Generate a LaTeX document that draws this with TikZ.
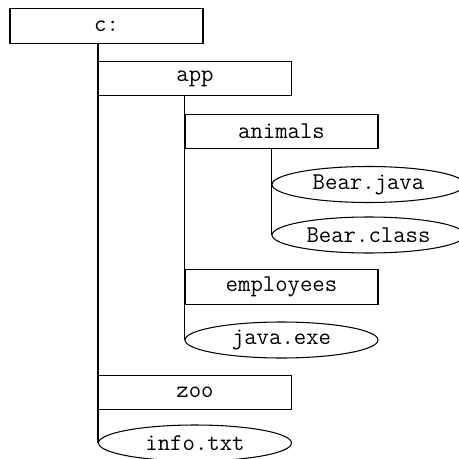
\documentclass[tikz,border=0pt]{standalone}
\usetikzlibrary{shapes.geometric}
\tikzset{
  dirbox/.style={draw, rectangle, line width=0.6pt, minimum width=3.86cm, minimum height=0.69cm, inner sep=0pt, font=\ttfamily\fontsize{13.7}{15}\selectfont},
  filebox/.style={draw, ellipse, line width=0.6pt, minimum width=3.86cm, minimum height=0.72cm, inner sep=0pt, font=\ttfamily\fontsize{13.7}{15}\selectfont},
  branch/.style={line width=0.6pt}
}
\begin{document}
\begin{tikzpicture}[x=0.02cm,y=-0.02cm]
\useasboundingbox (0,0) rectangle (459,459);
% folders
\node[dirbox] (croot) at (106.5,26) {c:};
\node[dirbox] (app) at (195,78.5) {app};
\node[dirbox] (animals) at (281.5,131.5) {animals};
\node[dirbox] (employees) at (281.5,287) {employees};
\node[dirbox] (zoo) at (195,392.5) {zoo};
% files
\node[filebox] (bearjava) at (368.5,184.5) {Bear.java};
\node[filebox] (bearclass) at (368.5,235) {Bear.class};
\node[filebox] (javaexe) at (281.5,340) {java.exe};
\node[filebox] (infotxt) at (195,443) {info.txt};
% tree lines
\draw[branch] (croot.south -| infotxt.west) -- (infotxt.west);
\draw[branch] (app.south -| javaexe.west) -- (javaexe.west);
\draw[branch] (animals.south -| bearclass.west) -- (bearclass.west);
\end{tikzpicture}
\end{document}
